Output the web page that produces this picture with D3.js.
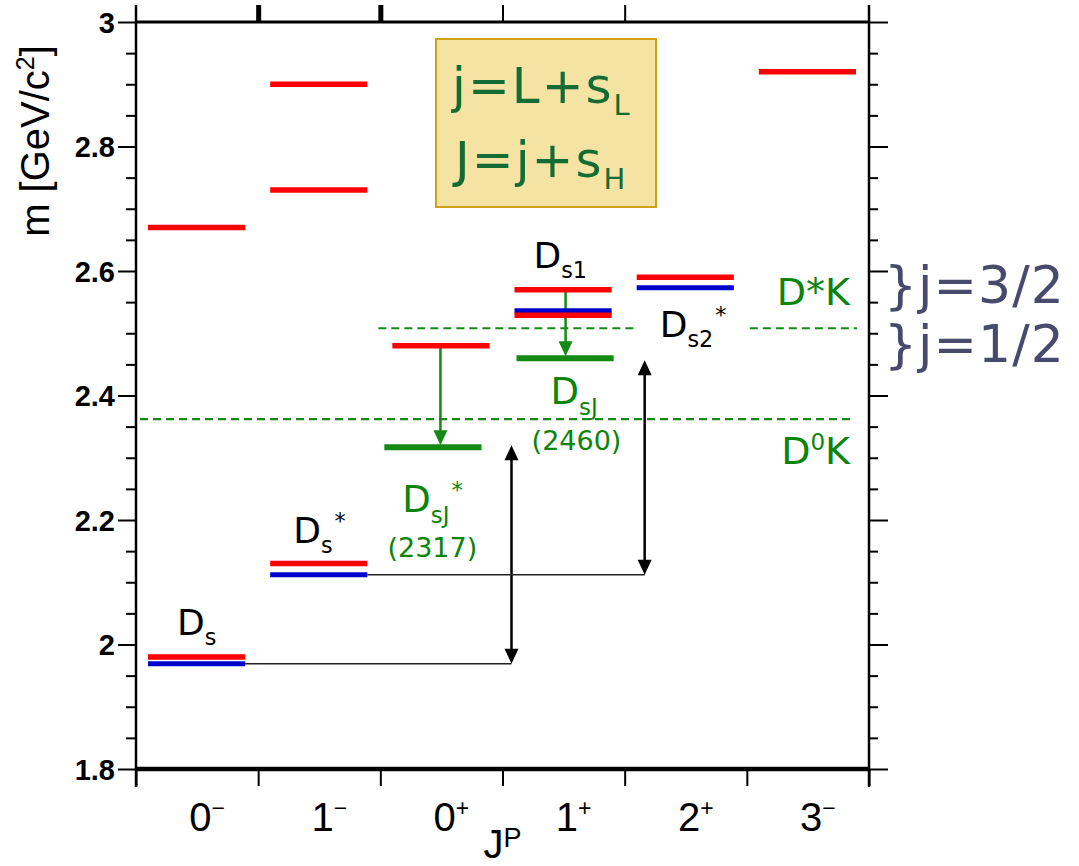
<!DOCTYPE html>
<html>
<head>
<meta charset="utf-8">
<script src="https://cdn.jsdelivr.net/npm/d3@7"></script>
<style>
  body { margin: 0; background: #fff; }
  svg { display: block; }
</style>
</head>
<body>
<svg id="chart" width="1079" height="866"></svg>
<script>
// J^P columns
const categoryJ = ["0", "1", "0", "1", "2", "3"];
const categoryP = ["−", "−", "+", "+", "+", "−"];

// quark-model predictions (GeV/c^2), column index + mass
const predictedCol = [0, 0, 1, 1, 1, 2, 3, 3, 4, 5];
const predictedMass = [1.98, 2.67, 2.13, 2.73, 2.90, 2.48, 2.57, 2.529, 2.59, 2.92];

// established D_s states
const measuredCol = [0, 1, 3, 4];
const measuredMass = [1.969, 2.112, 2.536, 2.573];

// newly observed narrow states
const newCol = [2, 3];
const newMass = [2.317, 2.460];

// two-body thresholds
const thresholdNames = ["D*K", "D0K"];
const thresholdMass = [2.508, 2.362];

// mass axis
const yMajor = [1.8, 2.0, 2.2, 2.4, 2.6, 2.8, 3.0];
const yMajorLabels = ["1.8", "2", "2.2", "2.4", "2.6", "2.8", "3"];

const RED = "#ff0000", BLUE = "#0000cc", GREEN = "#138a13", TXTGREEN = "#0a850a";

const svg = d3.select("#chart");
const plotL = 136, plotR = 869, plotT = 22, plotB = 769;

const x = d3.scaleBand().domain(d3.range(categoryJ.length)).range([plotL, plotR]);
const xb = d3.scaleLinear().domain([0, categoryJ.length]).range([plotL, plotR]);
const y = d3.scaleLinear().domain([1.8, 3.0]).range([plotB, plotT]);

const yMinor = d3.range(1.8, 3.0001, 0.05).filter(v => !yMajor.some(m => Math.abs(m - v) < 1e-6));

// ---------- axes ----------
const gAxes = svg.append("g");

function styleAxis(g, w) {
  g.select(".domain").remove();
  g.selectAll(".tick line").attr("stroke", "#000").attr("stroke-width", w);
}

gAxes.append("g").attr("transform", `translate(${plotL},0)`)
  .call(d3.axisLeft(y).tickValues(yMajor).tickSize(18).tickFormat((d, i) => yMajorLabels[i]))
  .call(g => {
    styleAxis(g, 2);
    g.selectAll(".tick text")
      .attr("x", -21).attr("dy", "0.36em")
      .attr("font-family", "Liberation Sans, Arial, sans-serif")
      .attr("font-weight", "bold").attr("font-size", 29).attr("fill", "#000");
  });
gAxes.append("g").attr("transform", `translate(${plotL},0)`)
  .call(d3.axisLeft(y).tickValues(yMinor).tickSize(10).tickFormat(""))
  .call(g => styleAxis(g, 2));

gAxes.append("g").attr("transform", `translate(${plotR},0)`)
  .call(d3.axisRight(y).tickValues(yMajor).tickSize(19).tickFormat(""))
  .call(g => styleAxis(g, 2));
gAxes.append("g").attr("transform", `translate(${plotR},0)`)
  .call(d3.axisRight(y).tickValues(yMinor).tickSize(9).tickFormat(""))
  .call(g => styleAxis(g, 2));

// top frame ticks
const topTickWidth = [5, 5, 2, 2];
gAxes.append("g").attr("transform", `translate(0,${plotT})`)
  .call(d3.axisTop(xb).tickValues([1, 2, 3, 4]).tickSize(17).tickFormat(""))
  .call(g => {
    g.select(".domain").remove();
    g.selectAll(".tick line").attr("stroke", "#000").attr("stroke-width", (d, i) => topTickWidth[i]);
  });

// bottom ticks at column boundaries
gAxes.append("g").attr("transform", `translate(0,${plotB})`)
  .call(d3.axisBottom(xb).tickValues(d3.range(0, categoryJ.length + 1)).tickSize(17).tickFormat(""))
  .call(g => styleAxis(g, 2));

// frame lines
gAxes.append("line").attr("x1", plotL).attr("x2", plotL).attr("y1", 5).attr("y2", plotB + 18)
  .attr("stroke", "#000").attr("stroke-width", 2.5);
gAxes.append("line").attr("x1", plotR).attr("x2", plotR).attr("y1", 5).attr("y2", plotB + 18)
  .attr("stroke", "#000").attr("stroke-width", 2.5);
gAxes.append("line").attr("x1", plotL).attr("x2", plotR).attr("y1", plotT).attr("y2", plotT)
  .attr("stroke", "#000").attr("stroke-width", 3);
gAxes.append("line").attr("x1", plotL).attr("x2", plotR).attr("y1", plotB).attr("y2", plotB)
  .attr("stroke", "#000").attr("stroke-width", 4.5);

// column labels
const catText = svg.append("g")
  .attr("font-family", "Liberation Sans, Arial, sans-serif").attr("fill", "#000");
categoryJ.forEach((j, i) => {
  const t = catText.append("text")
    .attr("x", x(i) + x.bandwidth() / 2 + 10).attr("y", 831)
    .attr("text-anchor", "middle").attr("font-size", 40);
  t.append("tspan").text(j);
  t.append("tspan").attr("font-size", 23).attr("dy", -15).text(categoryP[i]);
});

const jpLabel = svg.append("text").attr("x", xb(3) + 0).attr("y", 858)
  .attr("text-anchor", "middle").attr("font-family", "Liberation Sans, Arial, sans-serif")
  .attr("font-size", 40);
jpLabel.append("tspan").text("J");
jpLabel.append("tspan").attr("font-size", 27).attr("dy", -11).text("P");

// mass axis title
const yTitle = svg.append("text")
  .attr("transform", "translate(49,141) rotate(-90)")
  .attr("text-anchor", "middle").attr("font-family", "Liberation Sans, Arial, sans-serif")
  .attr("font-size", 40);
yTitle.append("tspan").text("m [GeV/c");
yTitle.append("tspan").attr("font-size", 25).attr("dy", -15).text("2");
yTitle.append("tspan").attr("dy", 15).text("]");

// ---------- thresholds ----------
const thr = svg.append("g").attr("stroke", GREEN).attr("stroke-width", 2.2)
  .attr("stroke-dasharray", "8,5").attr("fill", "none");
// D*K: broken around the D_s2* label
thr.append("line").attr("x1", xb(2) - 2).attr("x2", xb(4) + 11)
  .attr("y1", y(thresholdMass[0])).attr("y2", y(thresholdMass[0]));
thr.append("line").attr("x1", xb(5) + 3).attr("x2", xb(6) - 12)
  .attr("y1", y(thresholdMass[0])).attr("y2", y(thresholdMass[0]));
// D0K
thr.append("line").attr("x1", xb(0) + 4).attr("x2", xb(6) - 16)
  .attr("y1", y(thresholdMass[1])).attr("y2", y(thresholdMass[1]));

// ---------- connector lines and arrows ----------
function head(g, cx, tipY, dir, w, h, color) {
  // dir = +1 pointing down, -1 pointing up
  g.append("path")
    .attr("d", `M${cx},${tipY} L${cx - w / 2},${tipY - dir * h} L${cx + w / 2},${tipY - dir * h} Z`)
    .attr("fill", color);
}

const conn = svg.append("g");
const lineEnd = i => x(i) + x.bandwidth() - 13;
const lineStart = i => x(i) + 12;

// D_s -> D_sJ*(2317)
const a1x = xb(3) + 9;
conn.append("line").attr("x1", lineEnd(0)).attr("x2", a1x)
  .attr("y1", y(measuredMass[0])).attr("y2", y(measuredMass[0]))
  .attr("stroke", "#222").attr("stroke-width", 1.5);
conn.append("line").attr("x1", a1x).attr("x2", a1x)
  .attr("y1", y(newMass[0]) + 12).attr("y2", y(measuredMass[0]) - 12)
  .attr("stroke", "#000").attr("stroke-width", 2.5);
head(conn, a1x, y(newMass[0]) - 2, -1, 14, 15, "#000");
head(conn, a1x, y(measuredMass[0]), 1, 14, 15, "#000");

// D_s* -> D_sJ(2460)
const a2x = xb(4) + 20;
conn.append("line").attr("x1", lineEnd(1)).attr("x2", a2x)
  .attr("y1", y(measuredMass[1])).attr("y2", y(measuredMass[1]))
  .attr("stroke", "#222").attr("stroke-width", 1.5);
conn.append("line").attr("x1", a2x).attr("x2", a2x)
  .attr("y1", y(newMass[1]) + 12).attr("y2", y(measuredMass[1]) - 12)
  .attr("stroke", "#000").attr("stroke-width", 2.5);
head(conn, a2x, y(newMass[1]) + 2, -1, 14, 15, "#000");
head(conn, a2x, y(measuredMass[1]), 1, 14, 15, "#000");

// ---------- levels ----------
const levels = svg.append("g");
levels.selectAll("line.meas").data(measuredMass).join("line")
  .attr("class", "meas")
  .attr("x1", (d, i) => lineStart(measuredCol[i])).attr("x2", (d, i) => lineEnd(measuredCol[i]))
  .attr("y1", d => y(d)).attr("y2", d => y(d))
  .attr("stroke", BLUE).attr("stroke-width", 5);
levels.selectAll("line.pred").data(predictedMass).join("line")
  .attr("class", "pred")
  .attr("x1", (d, i) => lineStart(predictedCol[i])).attr("x2", (d, i) => lineEnd(predictedCol[i]))
  .attr("y1", d => y(d)).attr("y2", d => y(d))
  .attr("stroke", RED).attr("stroke-width", 5.5);

const newShift = [-8, 2];
levels.selectAll("line.new").data(newMass).join("line")
  .attr("class", "new")
  .attr("x1", (d, i) => lineStart(newCol[i]) + newShift[i]).attr("x2", (d, i) => lineEnd(newCol[i]) + newShift[i])
  .attr("y1", d => y(d)).attr("y2", d => y(d))
  .attr("stroke", GREEN).attr("stroke-width", 6);

// green decay arrows from the predicted states down to the observed ones
const decayFrom = [predictedMass[5], predictedMass[6]];
const decayX = [x(2) + x.bandwidth() / 2 - 1, x(3) + x.bandwidth() / 2 + 2];
decayFrom.forEach((m0, i) => {
  conn.append("line").attr("x1", decayX[i]).attr("x2", decayX[i])
    .attr("y1", y(m0)).attr("y2", y(newMass[i]) - 14)
    .attr("stroke", GREEN).attr("stroke-width", 2.5);
  head(svg, decayX[i], y(newMass[i]) - 2, 1, 14, 15, GREEN);
});

// ---------- labels ----------
const lab = svg.append("g").attr("font-family", "DejaVu Sans, Verdana, sans-serif");

function stateLabel(x0, base, main, sub, sup, color, size) {
  const t = lab.append("text").attr("x", x0).attr("y", base).attr("fill", color).attr("font-size", size);
  t.append("tspan").text(main);
  t.append("tspan").attr("font-size", size * 0.62).attr("dy", size * 0.28).text(sub);
  if (sup) t.append("tspan").attr("font-size", size * 0.62).attr("dy", -size * 0.66).attr("dx", 2).text(sup);
  return t;
}

stateLabel(xb(0) + 41, y(predictedMass[0]) - 22, "D", "s", null, "#000", 36);
stateLabel(xb(1) + 35, y(predictedMass[2]) - 21, "D", "s", "*", "#000", 36);
stateLabel(xb(3) + 31, y(predictedMass[6]) - 22, "D", "s1", null, "#000", 36);
stateLabel(xb(4) + 35, y(measuredMass[3]) + 49, "D", "s2", "*", "#000", 36);

stateLabel(xb(3) + 48, y(newMass[1]) + 46, "D", "sJ", null, TXTGREEN, 37);
lab.append("text").attr("x", xb(3) + 74).attr("y", y(newMass[1]) + 92)
  .attr("text-anchor", "middle").attr("fill", TXTGREEN).attr("font-size", 27).text("(2460)");

stateLabel(xb(2) + 22, y(newMass[0]) + 65, "D", "sJ", "*", TXTGREEN, 37);
lab.append("text").attr("x", xb(2) + 52).attr("y", y(newMass[0]) + 110)
  .attr("text-anchor", "middle").attr("fill", TXTGREEN).attr("font-size", 27).text("(2317)");

// threshold names
lab.append("text").attr("x", 850).attr("y", y(thresholdMass[0]) - 23)
  .attr("text-anchor", "end").attr("fill", TXTGREEN).attr("font-size", 38).text(thresholdNames[0]);
const d0k = lab.append("text").attr("x", 850).attr("y", y(thresholdMass[1]) + 45)
  .attr("text-anchor", "end").attr("fill", TXTGREEN).attr("font-size", 38);
d0k.append("tspan").text("D");
d0k.append("tspan").attr("font-size", 23).attr("dy", -14).text("0");
d0k.append("tspan").attr("dy", 14).text("K");

// light-quark spin doublets
const jColor = "#474a6c";
lab.append("text").attr("x", 884).attr("y", 303).attr("fill", jColor).attr("font-size", 52)
  .attr("letter-spacing", 1).text("}j=3/2");
lab.append("text").attr("x", 884).attr("y", 362).attr("fill", jColor).attr("font-size", 52)
  .attr("letter-spacing", 1).text("}j=1/2");

// coupling box
const box = svg.append("g");
box.append("rect").attr("x", 436).attr("y", 39).attr("width", 220).attr("height", 168)
  .attr("fill", "#f5e3a3").attr("stroke", "#d1a118").attr("stroke-width", 2);
const boxColor = "#146b34";
const l1 = box.append("text").attr("x", 452).attr("y", 103).attr("fill", boxColor)
  .attr("font-family", "DejaVu Sans, Verdana, sans-serif").attr("font-size", 50).attr("letter-spacing", 2);
l1.append("tspan").text("j=L+s");
l1.append("tspan").attr("font-size", 29).attr("dy", 12).text("L");
const l2 = box.append("text").attr("x", 455).attr("y", 177).attr("fill", boxColor)
  .attr("font-family", "DejaVu Sans, Verdana, sans-serif").attr("font-size", 50).attr("letter-spacing", 2);
l2.append("tspan").text("J=j+s");
l2.append("tspan").attr("font-size", 29).attr("dy", 12).text("H");
</script>
</body>
</html>
